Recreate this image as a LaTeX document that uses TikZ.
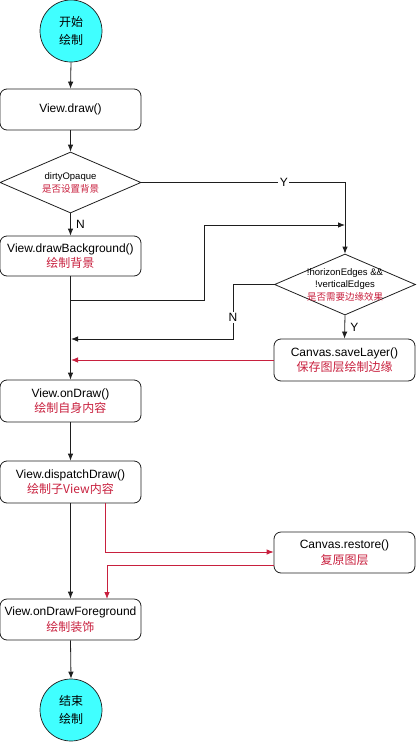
\documentclass[tikz,border=0pt]{standalone}
\usepackage{fontspec}
\setmainfont{Liberation Sans}
\newfontfamily\cjk{Noto Sans CJK SC}
\usetikzlibrary{shapes.geometric,arrows.meta,calc}
\definecolor{cyanfill}{RGB}{64,255,255}
\definecolor{myred}{RGB}{200,32,62}
\definecolor{lineblk}{RGB}{30,30,30}
\tikzset{
  procbox/.style={draw=lineblk,line width=0.8pt,rounded corners=7pt,minimum width=141pt,align=center,inner sep=0pt,font=\fontsize{12}{15.5}\selectfont},
  termcirc/.style={circle,draw=lineblk,line width=0.7pt,fill=cyanfill,minimum size=62pt,inner sep=0pt,align=center,font=\cjk\fontsize{12}{18}\selectfont},
  decshape/.style={diamond,draw=lineblk,line width=0.8pt,minimum width=141pt,minimum height=61pt,inner sep=0pt},
  dectext/.style={align=center,inner sep=0pt,font=\fontsize{9.5}{12.5}\selectfont},
  flow/.style={draw=lineblk,line width=0.8pt,-{Latex[length=7pt,width=5.5pt]}},
  flowline/.style={draw=lineblk,line width=0.8pt},
  redflow/.style={draw=myred,line width=0.8pt,-{Latex[length=7pt,width=5.5pt]}},
  redline/.style={draw=myred,line width=0.8pt},
  lbl/.style={fill=white,inner sep=1.5pt,font=\fontsize{12}{14}\selectfont},
}
\newcommand{\rt}[1]{{\cjk\color{myred}#1}}
\begin{document}
\begin{tikzpicture}[x=1pt,y=-1pt]
\useasboundingbox (0,0) rectangle (416,742);
\node[termcirc] (start) at (71,31) {开始\\绘制};
\node[procbox,minimum height=41pt] (draw) at (70.5,109.5) {View.draw()};
\node[decshape] (d1) at (70.5,182.5) {};
\node[dectext] (d1t) at (70.5,183) {dirtyOpaque\\\rt{是否设置背景}};
\node[procbox,minimum height=40pt] (bg) at (70.5,256) {View.drawBackground()\\\rt{绘制背景}};
\node[decshape] (d2) at (345,284.5) {};
\node[dectext] (d2t) at (345,284.5) {!horizonEdges \&\&\\!verticalEdges\\\rt{是否需要边缘效果}};
\node[procbox,minimum height=42pt] (save) at (344.5,360) {Canvas.saveLayer()\\\rt{保存图层绘制边缘}};
\node[procbox,minimum height=42pt] (ondraw) at (70.5,401) {View.onDraw()\\\rt{绘制自身内容}};
\node[procbox,minimum height=42pt] (dispatch) at (70.5,482) {View.dispatchDraw()\\\rt{绘制子View内容}};
\node[procbox,minimum height=41pt] (restore) at (344.5,552.5) {Canvas.restore()\\\rt{复原图层}};
\node[procbox,minimum height=41pt] (fg) at (70.5,619.5) {View.onDrawForeground\\\rt{绘制装饰}};
\node[termcirc] (end) at (71,710) {结束\\绘制};

\coordinate (j1) at (71,300);
\coordinate (k1) at (204,300);
\coordinate (k2) at (204,225);
\coordinate (k3) at (345,225);
\coordinate (n1) at (233,284.5);
\coordinate (n2) at (233,339);
\coordinate (n3) at (71,339);
\coordinate (s1) at (71,360);
\coordinate (r1) at (105,503);
\coordinate (r2) at (105,552);
\coordinate (q1) at (274,565);
\coordinate (q2) at (107,565);
\coordinate (q3) at (107,599);

\draw[flow] (start.south) -- (draw.north);
\draw[flow] (draw.south) -- (d1.north);
\draw[flow] (d1.east) -- (d1.east -| d2.north) node[lbl,pos=0.7] {Y} -- (d2.north);
\draw[flow] (d1.south) -- (bg.north) node[midway,right,font=\fontsize{12}{14}\selectfont,xshift=2pt] {N};
\draw[flow] (bg.south) -- (ondraw.north);
\draw[flow] (j1) -- (k1) -- (k2) -- (k3);
\draw[flow] (d2.west) -- (n1) -- (n2) node[lbl,pos=0.6] {N} -- (n3);
\draw[flow] (d2.south) -- (save.north) node[midway,right,font=\fontsize{12}{14}\selectfont,xshift=2pt] {Y};
\draw[redflow] (save.west) -- (s1);
\draw[flow] (ondraw.south) -- (dispatch.north);
\draw[flow] (dispatch.south) -- (fg.north);
\draw[redflow] (r1) -- (r2) -- (restore.west |- r2);
\draw[redflow] (q1) -- (q2) -- (q3);
\draw[flow] (fg.south) -- (end.north);
\end{tikzpicture}
\end{document}
